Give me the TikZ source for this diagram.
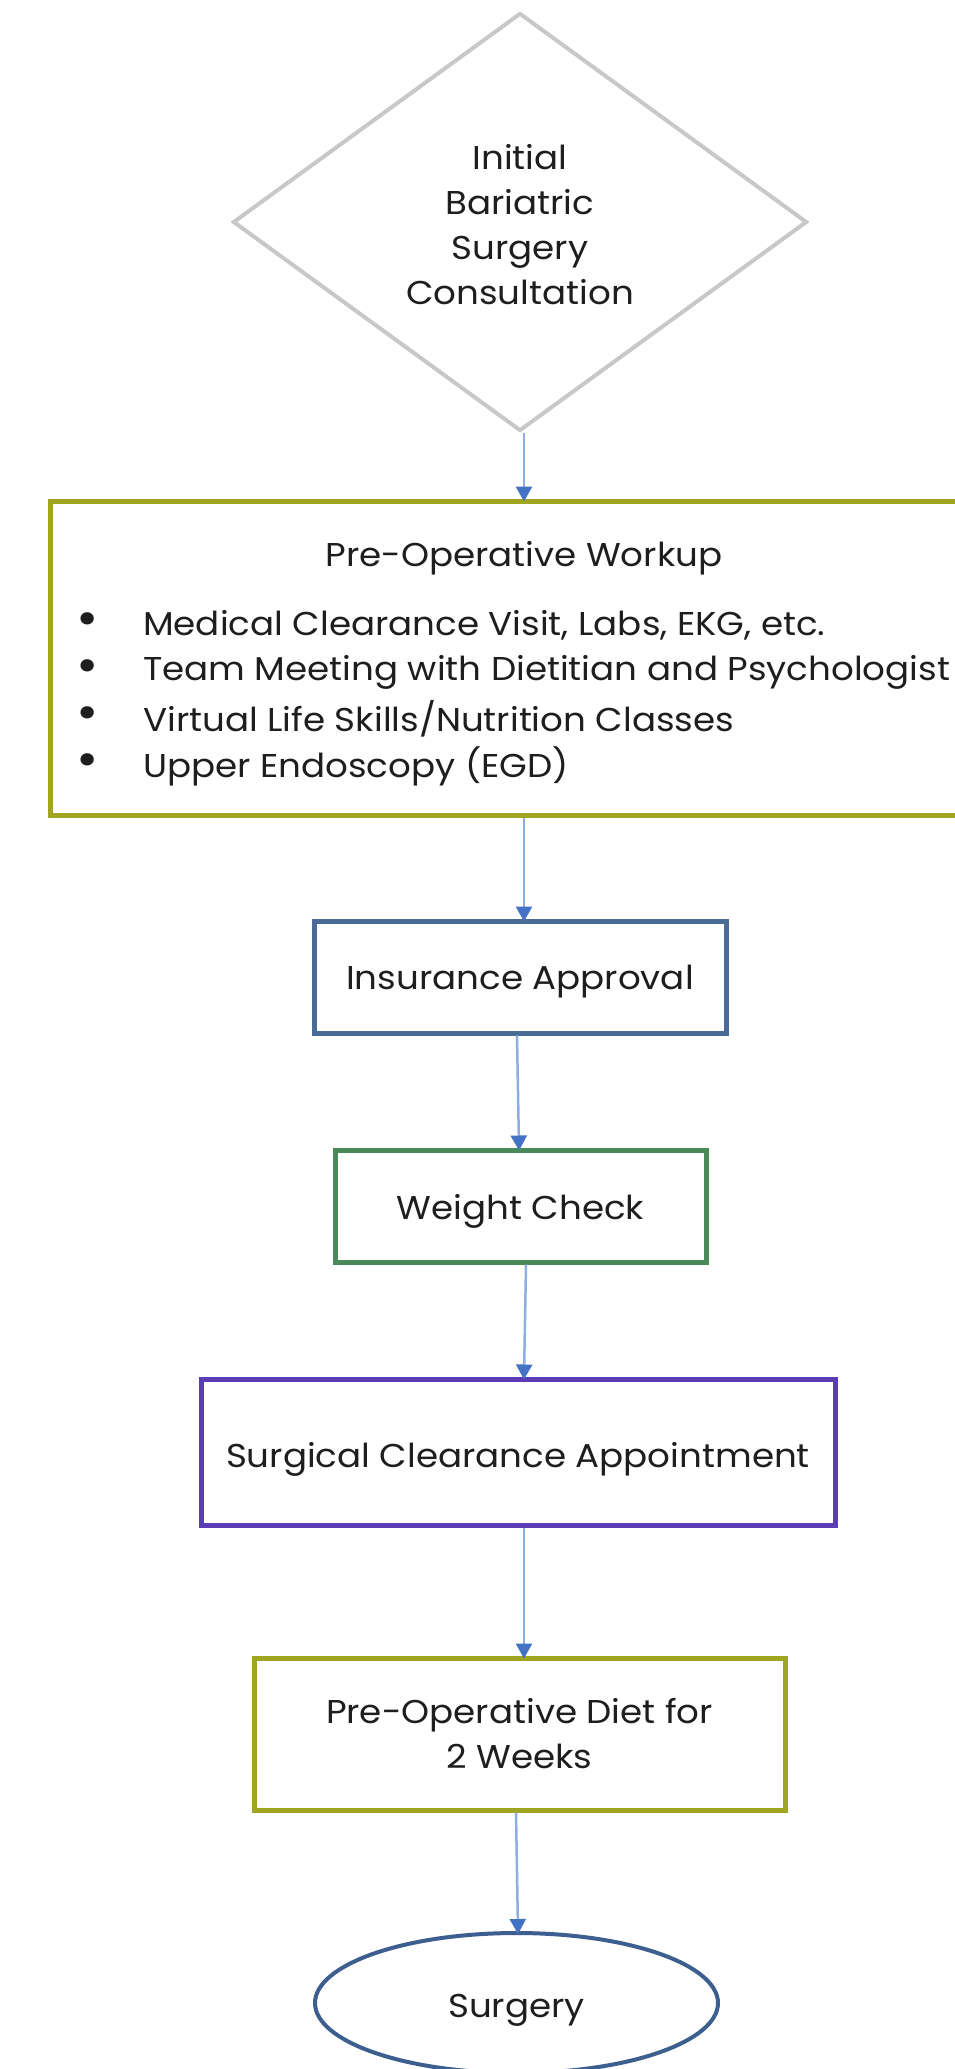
\documentclass[tikz,border=0pt]{standalone}
\usepackage{fontspec}
\setmainfont{Poppins}[FakeStretch=1.08]
\usetikzlibrary{shapes.geometric,arrows.meta}
\definecolor{txt}{HTML}{1E1E1E}
\definecolor{dgray}{HTML}{C8C8C8}
\definecolor{olive}{HTML}{A0A622}
\definecolor{steel}{HTML}{4A6B96}
\definecolor{grn}{HTML}{4A8A58}
\definecolor{purp}{HTML}{5A3CB5}
\definecolor{ellc}{HTML}{3D5F8F}
\definecolor{shaft}{HTML}{8EAEE0}
\definecolor{tipc}{HTML}{4472C4}
\newcommand{\lowertext}[2]{\raisebox{-#1}[\height][\depth]{#2}}
\tikzset{
  x=1pt,y=-1pt,
  every node/.style={text=txt,font=\fontsize{33}{45}\selectfont},
  stepbox/.style={draw,rectangle,line width=5pt,inner sep=0pt,align=center},
  arr/.style={draw=shaft,line width=2.5pt,-{Triangle[length=15pt,width=16pt,color=tipc,fill=tipc]},shorten >=-3pt},
  bul/.style={anchor=west,inner sep=0pt},
  dot/.style={inner sep=0pt,font=\fontsize{50}{50}\selectfont},
}
\begin{document}
\begin{tikzpicture}
\useasboundingbox (0,0) rectangle (954,2069);
\fill[white] (0,0) rectangle (954,2069);
% diamond
\node[diamond,draw=dgray,line width=4pt,minimum width=574pt,minimum height=418pt,inner sep=0pt] (dia) at (520,222) {\lowertext{6pt}{\begin{tabular}{@{}c@{}}Initial\\Bariatric\\Surgery\\Consultation\end{tabular}}};
% workup box
\node[stepbox,draw=olive,minimum width=950pt,minimum height=314pt] (wk) at (525,658) {};
\node[inner sep=0pt] (wkt) at (524,558) {Pre-Operative Workup};
\node[dot] (b1) at (88,624) {\textbullet};
\node[bul] (l1) at (143,625) {Medical Clearance Visit, Labs, EKG, etc.};
\node[dot] (b2) at (88,671) {\textbullet};
\node[bul] (l2) at (143,672) {Team Meeting with Dietitian and Psychologist};
\node[dot] (b3) at (88,718) {\textbullet};
\node[bul] (l3) at (143,719) {Virtual Life Skills/Nutrition Classes};
\node[dot] (b4) at (88,765) {\textbullet};
\node[bul] (l4) at (143,766) {Upper Endoscopy (EGD)};
% insurance
\node[stepbox,draw=steel,minimum width=412pt,minimum height=112pt] (ins) at (520,977) {\lowertext{5pt}{Insurance Approval}};
% weight
\node[stepbox,draw=grn,minimum width=371pt,minimum height=112pt] (wt) at (520.5,1206) {\lowertext{5pt}{Weight Check}};
% surgical
\node[stepbox,draw=purp,minimum width=634pt,minimum height=146pt] (sc) at (518,1452) {\lowertext{7pt}{Surgical Clearance Appointment}};
% diet
\node[stepbox,draw=olive,minimum width=531pt,minimum height=152pt] (diet) at (519.5,1734) {\lowertext{3pt}{\begin{tabular}{@{}c@{}}Pre-Operative Diet for\\2 Weeks\end{tabular}}};
% surgery
\node[ellipse,draw=ellc,line width=4pt,minimum width=403pt,minimum height=140pt,inner sep=0pt] (surg) at (516.5,2003) {\lowertext{7pt}{Surgery}};
% arrows
\draw[arr] ([xshift=4pt]dia.south) -- ([xshift=-1pt]wk.north);
\draw[arr] ([xshift=-1pt]wk.south) -- ([xshift=4pt]ins.north);
\draw[arr] ([xshift=-3pt]ins.south) -- ([xshift=-1.5pt]wt.north);
\draw[arr] ([xshift=5.5pt]wt.south) -- ([xshift=6pt]sc.north);
\draw[arr] ([xshift=6pt]sc.south) -- ([xshift=4.5pt]diet.north);
\draw[arr] ([xshift=-3.5pt]diet.south) -- ([xshift=1.5pt]surg.north);
\end{tikzpicture}
\end{document}
